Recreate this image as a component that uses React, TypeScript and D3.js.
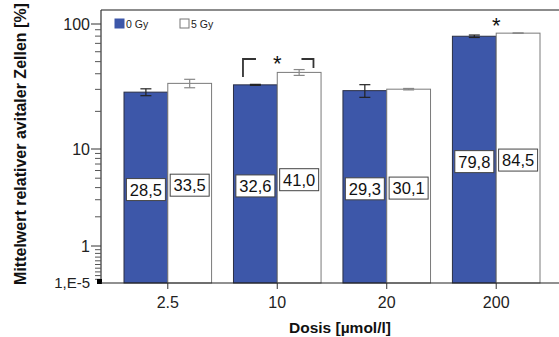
import React, { useRef, useEffect } from 'react';
import * as d3 from 'd3';

const doses = ['2.5', '10', '20', '200'];
const series = ['0 Gy', '5 Gy'];
const means0 = [28.5, 32.6, 29.3, 79.8];
const means5 = [33.5, 41.0, 30.1, 84.5];
const err0 = [1.8, 0.3, 3.4, 1.8];
const err5 = [2.6, 2.2, 0.4, 0.4];
const labels0 = ['28,5', '32,6', '29,3', '79,8'];
const labels5 = ['33,5', '41,0', '30,1', '84,5'];
const majorTicks = [1, 10, 100];
const majorLabels = ['1', '10', '100'];

function App() {
  const ref = useRef(null);

  useEffect(() => {
    const svg = d3.select(ref.current);
    ref.current.querySelectorAll('*').forEach(n => n.remove());

    const left = 101, top = 10, bottom = 283;
    const font = 'Arial, "Liberation Sans", sans-serif';
    const blue = '#3d57a9';

    // log part above 1, squeezed linear part below 1 (down to 1,E-5)
    const yLog = d3.scaleLog().domain([1, 10, 100, 129]).range([246, 149, 24, top]);
    const yLow = d3.scaleLinear().domain([0, 1]).range([bottom, 246]);
    const y = v => (v >= 1 ? yLog(v) : yLow(v));

    const x = d3.scaleBand().domain(doses).range([124, 540]).paddingInner(0.2);
    const xs = d3.scaleBand().domain(series).range([0, x.bandwidth()]);

    const rows = doses.map((d, i) => ({ d, vals: [
      { s: series[0], v: means0[i], e: err0[i], lab: labels0[i] },
      { s: series[1], v: means5[i], e: err5[i], lab: labels5[i] },
    ] }));

    // frame
    svg.append('line').attr('x1', left).attr('x2', 559).attr('y1', top).attr('y2', top)
      .attr('stroke', '#666').attr('stroke-width', 1.5);

    const g = svg.selectAll('g.grp').data(rows).enter().append('g')
      .attr('transform', r => `translate(${x(r.d)},0)`);

    g.selectAll('rect').data(r => r.vals).enter().append('rect')
      .attr('x', p => xs(p.s))
      .attr('y', p => y(p.v))
      .attr('width', xs.bandwidth())
      .attr('height', p => bottom - y(p.v))
      .attr('fill', (p, i) => (i === 0 ? blue : '#fff'))
      .attr('stroke', (p, i) => (i === 0 ? '#2a2f45' : '#7a7a7a'))
      .attr('stroke-width', 1);

    // error bars
    const eb = g.selectAll('g.err').data(r => r.vals).enter().append('g')
      .attr('stroke', (p, i) => (i === 0 ? '#222' : '#888'))
      .attr('stroke-width', 1.2);
    const cx = p => xs(p.s) + xs.bandwidth() / 2;
    eb.append('line').attr('x1', cx).attr('x2', cx)
      .attr('y1', p => y(p.v + p.e)).attr('y2', p => y(p.v - p.e));
    eb.append('line').attr('x1', p => cx(p) - 5.5).attr('x2', p => cx(p) + 5.5)
      .attr('y1', p => y(p.v + p.e)).attr('y2', p => y(p.v + p.e));
    eb.append('line').attr('x1', p => cx(p) - 5.5).attr('x2', p => cx(p) + 5.5)
      .attr('y1', p => y(p.v - p.e)).attr('y2', p => y(p.v - p.e));

    // value labels in boxes at the middle of each bar
    const lb = g.selectAll('g.lab').data(r => r.vals).enter().append('g')
      .attr('transform', p => `translate(${cx(p)},${(y(p.v) + bottom) / 2 + 2})`);
    lb.append('rect').attr('x', -19.5).attr('y', -11).attr('width', 39).attr('height', 22)
      .attr('fill', '#fff').attr('stroke', '#444').attr('stroke-width', 1);
    lb.append('text').attr('text-anchor', 'middle').attr('dy', '0.36em')
      .attr('font-family', font).attr('font-size', 16.5).attr('fill', '#111')
      .text(p => p.lab);

    // y axis
    svg.append('line').attr('x1', left).attr('x2', left).attr('y1', top).attr('y2', bottom)
      .attr('stroke', '#333').attr('stroke-width', 1.2);
    const minor = [];
    [1, 10].forEach(b => d3.range(2, 10).forEach(k => minor.push(b * k)));
    const minorLow = d3.range(1, 10).map(k => k / 10);
    svg.selectAll('line.minor').data(minor.concat(minorLow)).enter().append('line')
      .attr('x1', left - 6).attr('x2', left).attr('y1', d => y(d)).attr('y2', d => y(d))
      .attr('stroke', '#555').attr('stroke-width', 1);
    svg.selectAll('line.major').data(majorTicks).enter().append('line')
      .attr('x1', left - 10).attr('x2', left).attr('y1', d => y(d)).attr('y2', d => y(d))
      .attr('stroke', '#333').attr('stroke-width', 1);
    svg.selectAll('text.ylab').data(majorTicks).enter().append('text')
      .attr('x', left - 11).attr('y', d => y(d)).attr('dy', '0.36em')
      .attr('text-anchor', 'end').attr('font-family', font).attr('font-size', 16).attr('fill', '#222')
      .text((d, i) => majorLabels[i]);
    svg.append('text').attr('x', left - 11).attr('y', bottom).attr('dy', '0.36em')
      .attr('text-anchor', 'end').attr('font-family', font).attr('font-size', 15).attr('fill', '#222')
      .text('1,E-5');
    svg.append('rect').attr('x', left - 4).attr('y', bottom - 4).attr('width', 5).attr('height', 5)
      .attr('fill', '#000');

    // x axis
    svg.append('line').attr('x1', left).attr('x2', 559).attr('y1', bottom).attr('y2', bottom)
      .attr('stroke', '#222').attr('stroke-width', 1.2);
    const xt = svg.selectAll('g.xt').data(doses).enter().append('g')
      .attr('transform', d => `translate(${x(d) + x.bandwidth() / 2},${bottom})`);
    xt.append('line').attr('y2', 6).attr('stroke', '#333');
    xt.append('text').attr('y', 25).attr('text-anchor', 'middle')
      .attr('font-family', font).attr('font-size', 16).attr('fill', '#222').text(d => d);

    svg.append('text').attr('x', 340).attr('y', 333).attr('text-anchor', 'middle')
      .attr('font-family', font).attr('font-size', 15.5).attr('font-weight', 'bold').attr('fill', '#111')
      .text('Dosis [µmol/l]');
    svg.append('text').attr('transform', 'translate(26,144) rotate(-90)').attr('text-anchor', 'middle')
      .attr('font-family', font).attr('font-size', 16).attr('font-weight', 'bold').attr('fill', '#111')
      .text('Mittelwert relativer avitaler Zellen [%]');

    // legend
    const lg = svg.selectAll('g.leg').data(series).enter().append('g')
      .attr('transform', (d, i) => `translate(${115 + i * 65},19)`);
    lg.append('rect').attr('width', 9).attr('height', 9)
      .attr('fill', (d, i) => (i === 0 ? blue : '#fff'))
      .attr('stroke', (d, i) => (i === 0 ? blue : '#777'));
    lg.append('text').attr('x', 11).attr('y', 8.5).attr('font-family', font).attr('font-size', 10.5)
      .attr('fill', '#222').text(d => d);

    // significance marks
    const bx = x('10');
    const by = 59;
    svg.append('path')
      .attr('d', `M${bx + 9.5},${by + 18}V${by}H${bx + 22.5}M${bx + 68},${by}H${bx + 80}V${by + 9}`)
      .attr('fill', 'none').attr('stroke', '#333').attr('stroke-width', 1.8);
    svg.append('text').attr('x', x('10') + x.bandwidth() / 2).attr('y', by + 12).attr('text-anchor', 'middle')
      .attr('font-family', font).attr('font-size', 22).attr('fill', '#111').text('*');
    svg.append('text').attr('x', x('200') + x.bandwidth() / 2).attr('y', 33).attr('text-anchor', 'middle')
      .attr('font-family', font).attr('font-size', 22).attr('fill', '#111').text('*');
  }, []);

  return (
    <svg ref={ref} width={559} height={337}
      style={{ position: 'absolute', left: 0, top: 0, background: '#fff' }} />
  );
}

export default App;
